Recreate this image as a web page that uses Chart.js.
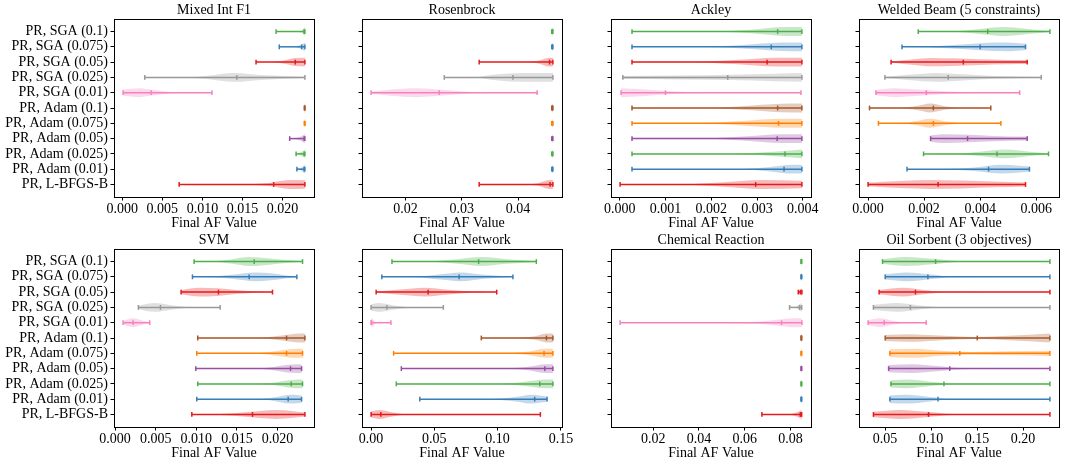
<!DOCTYPE html>
<html>
<head>
<meta charset="utf-8">
<script src="https://cdn.jsdelivr.net/npm/chart.js@4.4.1/dist/chart.umd.min.js"></script>
<style>
    html, body { margin: 0; padding: 0; background: #fff; overflow: hidden; }
    body { width: 1070px; height: 461px; position: relative; }
    .panel { position: absolute; }
</style>
</head>
<body>
<div id="grid"></div>
<script>
const categories = ['PR, SGA (0.1)', 'PR, SGA (0.075)', 'PR, SGA (0.05)', 'PR, SGA (0.025)', 'PR, SGA (0.01)',
    'PR, Adam (0.1)', 'PR, Adam (0.075)', 'PR, Adam (0.05)', 'PR, Adam (0.025)', 'PR, Adam (0.01)', 'PR, L-BFGS-B'];
const seriesColors = ['#4daf4a', '#377eb8', '#e41a1c', '#999999', '#f781bf', '#a65628',
    '#ff7f00', '#984ea3', '#4daf4a', '#377eb8', '#e41a1c'];
const panelTitles = ['Mixed Int F1', 'Rosenbrock', 'Ackley', 'Welded Beam (5 constraints)',
    'SVM', 'Cellular Network', 'Chemical Reaction', 'Oil Sorbent (3 objectives)'];

// violin shapes: [fraction of min..max range, relative half width]
const tinyShape = [[0, 0.6], [1, 1]];

// Mixed Int F1
const mixedMins = [0.0192, 0.0196, 0.0167, 0.0028, 0.0001, 0.02272, 0.02272, 0.0209, 0.0217, 0.0218, 0.0071];
const mixedMedians = [0.0227, 0.0224, 0.0216, 0.0143, 0.0036, 0.02278, 0.02278, 0.0227, 0.0227, 0.0227, 0.0189];
const mixedMaxs = [0.0228, 0.0228, 0.0228, 0.0228, 0.0112, 0.0228, 0.0228, 0.0228, 0.0228, 0.0228, 0.0228];
const mixedShapes = [
    [[0, .03], [.7, .03], [.9, .3], [1, 1]],
    [[0, .03], [.6, .05], [.85, .5], [1, 1]],
    [[0, .03], [.3, .05], [.55, .3], [.8, .9], [1, 1]],
    [[0, .03], [.25, .06], [.4, .4], [.55, 1], [.75, .5], [1, .15]],
    [[0, .7], [.18, 1], [.35, .6], [.55, .1], [.75, .03], [1, .02]],
    tinyShape, tinyShape,
    [[0, .05], [.6, .3], [1, 1]],
    [[0, .1], [.6, .4], [1, 1]],
    [[0, .1], [.6, .4], [1, 1]],
    [[0, .03], [.5, .04], [.7, .3], [.88, 1], [1, .95]]
];

// Rosenbrock
const rosenMins = [0.0460, 0.0460, 0.0331, 0.0269, 0.0139, 0.0460, 0.0460, 0.0460, 0.0460, 0.0460, 0.0331];
const rosenMedians = [0.0461, 0.0461, 0.0456, 0.0391, 0.0260, 0.0461, 0.0461, 0.0461, 0.0461, 0.0461, 0.0457];
const rosenMaxs = [0.0462, 0.0462, 0.0462, 0.0462, 0.0434, 0.0462, 0.0462, 0.0462, 0.0462, 0.0462, 0.0462];
const rosenShapes = [
    tinyShape, tinyShape,
    [[0, .03], [.6, .04], [.8, .3], [.95, 1], [1, 1]],
    [[0, .03], [.3, .1], [.45, .6], [.6, .9], [.8, 1], [1, 1]],
    [[0, .25], [.12, .7], [.28, 1], [.45, .6], [.6, .15], [.75, .04], [1, .03]],
    tinyShape, tinyShape, tinyShape, tinyShape, tinyShape,
    [[0, .03], [.6, .04], [.8, .3], [.95, 1], [1, 1]]
];

// Ackley
const ackleyMins = [0.00027, 0.00027, 0.00027, 0.00007, 0.00003, 0.00027, 0.00027, 0.00027, 0.00027, 0.00027, 0.00001];
const ackleyMedians = [0.00345, 0.00331, 0.00322, 0.00236, 0.00100, 0.00345, 0.00347, 0.00344, 0.00361, 0.00359, 0.00297];
const ackleyMaxs = [0.00398, 0.00398, 0.00398, 0.00398, 0.00396, 0.00398, 0.00398, 0.00398, 0.00398, 0.00398, 0.00398];
const ackleyShapes = [
    [[0, .03], [.5, .04], [.7, .4], [.9, 1], [1, 1]],
    [[0, .03], [.45, .05], [.65, .4], [.88, .95], [1, 1]],
    [[0, .03], [.4, .06], [.6, .45], [.85, 1], [1, 1]],
    [[0, .3], [.3, .45], [.6, .6], [.85, .85], [1, 1]],
    [[0, 1], [.12, .8], [.28, .3], [.45, .06], [1, .03]],
    [[0, .03], [.45, .05], [.65, .4], [.88, .95], [1, 1]],
    [[0, .03], [.4, .06], [.65, .5], [.88, 1], [1, 1]],
    [[0, .03], [.45, .05], [.65, .45], [.88, 1], [1, 1]],
    [[0, .03], [.6, .04], [.8, .4], [1, 1]],
    [[0, .03], [.6, .04], [.8, .45], [.95, 1], [1, .95]],
    [[0, .03], [.35, .05], [.55, .45], [.78, 1], [1, .85]]
];

// Welded Beam
const weldMins = [0.00179, 0.00121, 0.00082, 0.00060, 0.00028, 0.00005, 0.00037, 0.00223, 0.00198, 0.00139, 0.0];
const weldMedians = [0.00427, 0.00400, 0.00340, 0.00286, 0.00208, 0.00233, 0.00233, 0.00355, 0.00460, 0.00430, 0.00250];
const weldMaxs = [0.00649, 0.00562, 0.00568, 0.00618, 0.00541, 0.00438, 0.00474, 0.00568, 0.00644, 0.00576, 0.00562];
const weldShapes = [
    [[0, .03], [.25, .06], [.45, .5], [.65, 1], [.85, .5], [1, .1]],
    [[0, .05], [.2, .1], [.45, .45], [.7, .9], [.85, 1], [1, .7]],
    [[0, .1], [.15, .6], [.3, .95], [.45, .85], [.65, .65], [.85, .5], [1, .45]],
    [[0, .15], [.15, .6], [.33, 1], [.5, .7], [.7, .3], [1, .08]],
    [[0, .6], [.12, 1], [.3, .7], [.5, .25], [.7, .08], [1, .03]],
    [[0, .03], [.25, .06], [.4, .5], [.5, 1], [.62, .4], [.75, .05], [1, .03]],
    [[0, .03], [.2, .06], [.32, .5], [.42, 1], [.55, .4], [.7, .05], [1, .03]],
    [[0, .75], [.15, 1], [.4, .85], [.65, .6], [1, .45]],
    [[0, .03], [.25, .06], [.45, .5], [.65, 1], [.85, .5], [1, .15]],
    [[0, .03], [.3, .06], [.55, .4], [.78, 1], [1, .6]],
    [[0, .4], [.2, .8], [.4, 1], [.6, .9], [.8, .65], [1, .45]]
];

// SVM
const svmMins = [0.00973, 0.00953, 0.00813, 0.00287, 0.00099, 0.01018, 0.01006, 0.00994, 0.01018, 0.01006, 0.00945];
const svmMedians = [0.01713, 0.01651, 0.01273, 0.00559, 0.00222, 0.02111, 0.02111, 0.02160, 0.02168, 0.02131, 0.01692];
const svmMaxs = [0.02308, 0.02238, 0.01938, 0.01294, 0.00427, 0.02337, 0.02308, 0.02296, 0.02308, 0.02296, 0.02337];
const svmShapes = [
    [[0, .03], [.2, .08], [.35, .5], [.5, 1], [.7, .7], [.85, .35], [1, .1]],
    [[0, .03], [.2, .08], [.4, .5], [.6, 1], [.75, .8], [.9, .3], [1, .08]],
    [[0, .5], [.2, 1], [.4, .85], [.6, .45], [.8, .12], [1, .03]],
    [[0, .4], [.2, 1], [.4, .5], [.6, .1], [.8, .04], [1, .03]],
    [[0, .4], [.25, .9], [.4, 1], [.6, .7], [.8, .35], [1, .1]],
    [[0, .03], [.5, .04], [.65, .15], [.8, .6], [.95, 1], [1, 1]],
    [[0, .03], [.5, .04], [.65, .2], [.8, .7], [.95, 1], [1, 1]],
    [[0, .03], [.55, .04], [.7, .25], [.85, .8], [.95, 1], [1, .95]],
    [[0, .03], [.55, .04], [.7, .2], [.85, .75], [.95, 1], [1, 1]],
    [[0, .03], [.55, .04], [.7, .25], [.85, .9], [.92, 1], [1, .8]],
    [[0, .03], [.2, .06], [.4, .35], [.6, .8], [.75, 1], [.9, .75], [1, .45]]
];

// Cellular Network
const cellMins = [0.0165, 0.0085, 0.0040, 0.0, 0.0, 0.0871, 0.0178, 0.0239, 0.0199, 0.0385, 0.0];
const cellMedians = [0.0850, 0.0696, 0.0451, 0.0125, 0.0004, 0.1386, 0.1367, 0.1373, 0.1333, 0.1293, 0.0077];
const cellMaxs = [0.1306, 0.1121, 0.0993, 0.0571, 0.0157, 0.1437, 0.1437, 0.1437, 0.1437, 0.1391, 0.1338];
const cellShapes = [
    [[0, .03], [.25, .06], [.45, .5], [.62, 1], [.8, .5], [1, .08]],
    [[0, .03], [.25, .08], [.45, .6], [.6, 1], [.78, .45], [1, .05]],
    [[0, .15], [.2, .6], [.4, 1], [.6, .55], [.8, .12], [1, .03]],
    [[0, .7], [.1, 1], [.3, .5], [.5, .12], [.7, .04], [1, .03]],
    [[0, 1], [.1, .8], [.25, .1], [.5, .03], [1, .03]],
    [[0, .03], [.5, .05], [.75, .4], [.92, 1], [1, 1]],
    [[0, .03], [.7, .05], [.85, .4], [.95, 1], [1, 1]],
    [[0, .03], [.7, .05], [.85, .45], [.95, 1], [1, 1]],
    [[0, .03], [.65, .05], [.82, .5], [.95, 1], [1, 1]],
    [[0, .03], [.55, .06], [.75, .5], [.88, 1], [1, .6]],
    [[0, .7], [.05, 1], [.12, .5], [.2, .08], [.35, .03], [1, .03]]
];

// Chemical Reaction
const chemMins = [0.0846, 0.0846, 0.0834, 0.0796, 0.0055, 0.0846, 0.0846, 0.0846, 0.0846, 0.0846, 0.0675];
const chemMedians = [0.0848, 0.0848, 0.0843, 0.0840, 0.0761, 0.0848, 0.0848, 0.0848, 0.0848, 0.0848, 0.0843];
const chemMaxs = [0.0849, 0.0849, 0.0850, 0.0849, 0.0850, 0.0849, 0.0849, 0.0849, 0.0849, 0.0849, 0.0849];
const chemShapes = [
    tinyShape, tinyShape,
    [[0, .1], [.6, .4], [1, 1]],
    [[0, .03], [.5, .1], [.75, .6], [1, 1]],
    [[0, .03], [.6, .04], [.75, .2], [.87, .7], [.95, 1], [1, .95]],
    tinyShape, tinyShape, tinyShape, tinyShape, tinyShape,
    [[0, .03], [.7, .05], [.88, .5], [1, 1]]
];

// Oil Sorbent
const oilMins = [0.0472, 0.0501, 0.0435, 0.0373, 0.0315, 0.0501, 0.0552, 0.0538, 0.0563, 0.0552, 0.0373];
const oilMedians = [0.1049, 0.0965, 0.0830, 0.0775, 0.0490, 0.1502, 0.1312, 0.1203, 0.1140, 0.1075, 0.0972];
const oilMaxs = [0.2292, 0.2292, 0.2292, 0.2292, 0.0947, 0.2292, 0.2292, 0.2292, 0.2292, 0.2292, 0.2292];
const oilShapes = [
    [[0, .5], [.14, 1], [.3, .6], [.45, .1], [.6, .03], [1, .02]],
    [[0, .6], [.13, 1], [.28, .5], [.4, .08], [1, .02]],
    [[0, .5], [.14, 1], [.26, .5], [.38, .08], [1, .02]],
    [[0, .6], [.13, 1], [.25, .5], [.36, .1], [1, .02]],
    [[0, .6], [.2, 1], [.4, .5], [.6, .1], [1, .02]],
    [[0, .7], [.15, .85], [.3, .6], [.55, .25], [.75, .5], [1, 1]],
    [[0, .9], [.15, 1], [.35, .5], [.5, .3], [.75, .45], [1, .6]],
    [[0, .8], [.15, 1], [.3, .6], [.45, .15], [.7, .05], [1, .05]],
    [[0, .8], [.1, 1], [.25, .5], [.4, .08], [1, .03]],
    [[0, .85], [.1, 1], [.25, .5], [.38, .08], [1, .03]],
    [[0, .6], [.15, 1], [.3, .6], [.45, .1], [1, .02]]
];

const mixedTicks = [0, 0.005, 0.01, 0.015, 0.02];
const rosenTicks = [0.02, 0.03, 0.04];
const ackleyTicks = [0, 0.001, 0.002, 0.003, 0.004];
const weldTicks = [0, 0.002, 0.004, 0.006];
const svmTicks = [0, 0.005, 0.01, 0.015, 0.02];
const cellTicks = [0, 0.05, 0.1, 0.15];
const chemTicks = [0.02, 0.04, 0.06, 0.08];
const oilTicks = [0.05, 0.1, 0.15, 0.2];

const panels = [
    { mins: mixedMins, medians: mixedMedians, maxs: mixedMaxs, shapes: mixedShapes, ticks: mixedTicks, dec: 3 },
    { mins: rosenMins, medians: rosenMedians, maxs: rosenMaxs, shapes: rosenShapes, ticks: rosenTicks, dec: 2 },
    { mins: ackleyMins, medians: ackleyMedians, maxs: ackleyMaxs, shapes: ackleyShapes, ticks: ackleyTicks, dec: 3 },
    { mins: weldMins, medians: weldMedians, maxs: weldMaxs, shapes: weldShapes, ticks: weldTicks, dec: 3 },
    { mins: svmMins, medians: svmMedians, maxs: svmMaxs, shapes: svmShapes, ticks: svmTicks, dec: 3 },
    { mins: cellMins, medians: cellMedians, maxs: cellMaxs, shapes: cellShapes, ticks: cellTicks, dec: 2 },
    { mins: chemMins, medians: chemMedians, maxs: chemMaxs, shapes: chemShapes, ticks: chemTicks, dec: 2 },
    { mins: oilMins, medians: oilMedians, maxs: oilMaxs, shapes: oilShapes, ticks: oilTicks, dec: 2 }
];

const FONT = "'Liberation Serif', 'DejaVu Serif', serif";
const FONT_SIZE = 14;
const HALF_WIDTH = 0.29;   // max half width of a violin, in category units
const frameLefts = [114, 362, 611, 859];
const frameWidth = 200;
const rowTop = [0, 230];
const rowHeight = 232;
const xAxisHeight = 35;

function fade(hex, a) {
    const n = parseInt(hex.slice(1), 16);
    return `rgba(${(n >> 16) & 255},${(n >> 8) & 255},${n & 255},${a})`;
}

// monotone cubic through pixel points, continuing the current path
function smoothEdge(ctx, pts) {
    const n = pts.length;
    if (n < 2) return;
    const d = [], m = [];
    for (let k = 0; k < n - 1; k++) {
        const dx = pts[k + 1][0] - pts[k][0];
        d.push(Math.abs(dx) < 1e-6 ? 0 : (pts[k + 1][1] - pts[k][1]) / dx);
    }
    m[0] = d[0];
    m[n - 1] = d[n - 2];
    for (let k = 1; k < n - 1; k++) {
        m[k] = d[k - 1] * d[k] <= 0 ? 0 : (d[k - 1] + d[k]) / 2;
    }
    for (let k = 0; k < n - 1; k++) {
        if (d[k] === 0) { m[k] = 0; m[k + 1] = 0; continue; }
        const a = m[k] / d[k], b = m[k + 1] / d[k], s = a * a + b * b;
        if (s > 9) {
            const t = 3 / Math.sqrt(s);
            m[k] = t * a * d[k];
            m[k + 1] = t * b * d[k];
        }
    }
    for (let k = 0; k < n - 1; k++) {
        const h = pts[k + 1][0] - pts[k][0];
        ctx.bezierCurveTo(pts[k][0] + h / 3, pts[k][1] + m[k] * h / 3,
            pts[k + 1][0] - h / 3, pts[k + 1][1] - m[k + 1] * h / 3,
            pts[k + 1][0], pts[k + 1][1]);
    }
}

function violinPlugin(panel) {
    return {
        id: 'violins',
        beforeDatasetsDraw(chart) {
            const ctx = chart.ctx;
            const xs = chart.scales.x, ys = chart.scales.y;
            ctx.save();
            ctx.beginPath();
            ctx.rect(chart.chartArea.left, chart.chartArea.top, chart.chartArea.width, chart.chartArea.height);
            ctx.clip();
            panel.shapes.forEach((shape, i) => {
                const lo = panel.mins[i], hi = panel.maxs[i];
                const upper = shape.map(([f, w]) => [xs.getPixelForValue(lo + f * (hi - lo)), ys.getPixelForValue(i - w * HALF_WIDTH)]);
                const lower = shape.map(([f, w]) => [xs.getPixelForValue(lo + f * (hi - lo)), ys.getPixelForValue(i + w * HALF_WIDTH)]).reverse();
                // widen sub-pixel violins so they stay visible
                if (upper[upper.length - 1][0] - upper[0][0] < 1.2) {
                    const c = (upper[0][0] + upper[upper.length - 1][0]) / 2;
                    upper.forEach((p, k) => p[0] = c - 0.6 + 1.2 * k / (upper.length - 1));
                    lower.forEach((p, k) => p[0] = c + 0.6 - 1.2 * k / (lower.length - 1));
                }
                ctx.beginPath();
                ctx.moveTo(upper[0][0], upper[0][1]);
                smoothEdge(ctx, upper);
                ctx.lineTo(lower[0][0], lower[0][1]);
                smoothEdge(ctx, lower);
                ctx.closePath();
                ctx.fillStyle = fade(seriesColors[i], 0.3);
                ctx.fill();
            });
            ctx.restore();
        }
    };
}

const framePlugin = {
    id: 'frame',
    afterDatasetsDraw(chart) {
        const { left, top, width, height } = chart.chartArea;
        const ctx = chart.ctx;
        ctx.save();
        ctx.strokeStyle = '#000';
        ctx.lineWidth = 1;
        ctx.strokeRect(Math.round(left) + 0.5, Math.round(top) + 0.5, Math.round(width), Math.round(height));
        ctx.restore();
    }
};

const grid = document.getElementById('grid');

panels.forEach((panel, p) => {
    const row = Math.floor(p / 4), col = p % 4;
    const showLabels = col === 0;
    const yWidth = showLabels ? frameLefts[0] : 12;
    const left = showLabels ? 0 : frameLefts[col] - yWidth;
    const padRight = col === 3 ? 11 : 22;

    const box = document.createElement('div');
    box.className = 'panel';
    box.style.left = left + 'px';
    box.style.top = rowTop[row] + 'px';
    box.style.width = (yWidth + frameWidth + padRight) + 'px';
    box.style.height = rowHeight + 'px';
    const canvas = document.createElement('canvas');
    box.appendChild(canvas);
    grid.appendChild(box);

    const lo = Math.min(...panel.mins), hi = Math.max(...panel.maxs);
    const margin = 0.05 * (hi - lo);
    const yMargin = 0.05 * (categories.length - 1 + 2 * HALF_WIDTH);

    const datasets = categories.map((name, i) => ({
        label: name,
        data: [
            { x: panel.mins[i], y: i },
            { x: panel.medians[i], y: i },
            { x: panel.maxs[i], y: i }
        ],
        showLine: true,
        borderColor: seriesColors[i],
        borderWidth: 1.5,
        pointStyle: 'line',
        rotation: 90,
        pointRadius: 2.4,
        pointHoverRadius: 2.4,
        pointBorderWidth: 1.5,
        pointBorderColor: seriesColors[i],
        pointBackgroundColor: seriesColors[i]
    }));

    new Chart(canvas, {
        type: 'scatter',
        data: { datasets },
        options: {
            animation: false,
            responsive: true,
            maintainAspectRatio: false,
            events: [],
            layout: { padding: { left: 0, right: padRight, top: 0, bottom: 0 } },
            plugins: {
                legend: { display: false },
                tooltip: { enabled: false },
                title: {
                    display: true,
                    text: panelTitles[p],
                    fullSize: false,
                    color: '#000',
                    font: { family: FONT, size: FONT_SIZE, weight: 'normal', lineHeight: 1.2 },
                    padding: { top: 1.6, bottom: 0.6 }
                }
            },
            scales: {
                x: {
                    type: 'linear',
                    min: lo - margin,
                    max: hi + margin,
                    afterBuildTicks: ax => { ax.ticks = panel.ticks.map(v => ({ value: v })); },
                    afterFit: ax => { ax.height = xAxisHeight; ax.paddingLeft = 0; ax.paddingRight = 0; },
                    ticks: {
                        callback: v => Number(v).toFixed(panel.dec),
                        color: '#000',
                        font: { family: FONT, size: FONT_SIZE },
                        padding: 0.5,
                        maxRotation: 0,
                        minRotation: 0,
                        autoSkip: false
                    },
                    grid: { display: true, drawOnChartArea: false, drawTicks: true, tickLength: 3.5, color: '#000' },
                    border: { display: false },
                    title: {
                        display: true,
                        text: 'Final AF Value',
                        color: '#000',
                        font: { family: FONT, size: FONT_SIZE, lineHeight: 1.2 },
                        padding: { top: 0, bottom: 0 }
                    }
                },
                y: {
                    type: 'linear',
                    reverse: true,
                    min: -HALF_WIDTH - yMargin,
                    max: categories.length - 1 + HALF_WIDTH + yMargin,
                    afterBuildTicks: ax => { ax.ticks = categories.map((_, i) => ({ value: i })); },
                    afterFit: ax => { ax.width = yWidth; ax.paddingTop = 0; ax.paddingBottom = 0; },
                    ticks: {
                        display: showLabels,
                        callback: v => categories[v],
                        color: '#000',
                        font: { family: FONT, size: FONT_SIZE },
                        padding: 2.5,
                        autoSkip: false
                    },
                    grid: { display: true, drawOnChartArea: false, drawTicks: true, tickLength: 3.5, color: '#000' },
                    border: { display: false }
                }
            }
        },
        plugins: [violinPlugin(panel), framePlugin]
    });
});
</script>
</body>
</html>
